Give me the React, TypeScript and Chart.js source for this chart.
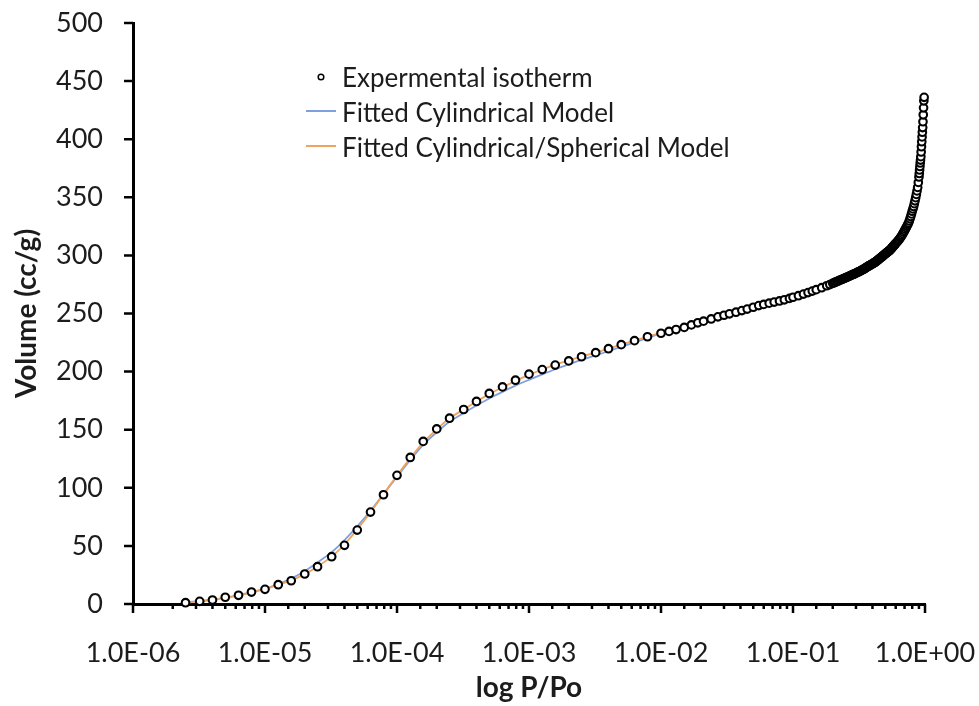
import React, { useEffect, useRef } from 'react';
import { Chart, registerables } from 'chart.js';

Chart.register(...registerables);

// ---- axis ticks ----
const xTickValues = [1e-6, 1e-5, 1e-4, 1e-3, 1e-2, 1e-1, 1];
const xTickLabels = ['1.0E-06', '1.0E-05', '1.0E-04', '1.0E-03', '1.0E-02', '1.0E-01', '1.0E+00'];
const yTickValues = [0, 50, 100, 150, 200, 250, 300, 350, 400, 450, 500];

const xTitle = 'log P/Po';
const yTitle = 'Volume (cc/g)';
const seriesNames = ['Expermental isotherm', 'Fitted Cylindrical Model', 'Fitted Cylindrical/Spherical Model'];

// ---- low-pressure experimental points (also where the fits are evaluated) ----
const lowP = [
  2.5e-6, 3.2e-6, 4.0e-6, 5.0e-6, 6.3e-6, 7.9e-6,
  1.0e-5, 1.26e-5, 1.58e-5, 2.0e-5, 2.5e-5, 3.2e-5, 4.0e-5, 5.0e-5, 6.3e-5, 7.9e-5,
  1.0e-4, 1.26e-4, 1.58e-4, 2.0e-4, 2.5e-4, 3.2e-4, 4.0e-4, 5.0e-4, 6.3e-4, 7.9e-4,
  1.0e-3, 1.26e-3, 1.58e-3, 2.0e-3, 2.5e-3, 3.2e-3, 4.0e-3, 5.0e-3, 6.3e-3, 7.9e-3,
];
const lowV = [
  1.1, 2.3, 3.4, 5.8, 7.5, 10.3,
  12.6, 16.6, 20.0, 25.8, 32.1, 40.7, 50.5, 63.6, 79.1, 94.0,
  110.7, 126.1, 139.9, 150.7, 159.9, 167.4, 174.3, 181.2, 186.8, 192.6,
  197.8, 201.7, 205.6, 209.2, 212.8, 216.3, 219.7, 223.2, 226.6, 230.0,
];

// ---- mid-pressure experimental points ----
const midP = [
  0.010, 0.0115, 0.013, 0.015, 0.017, 0.019, 0.021, 0.024, 0.027, 0.030,
  0.033, 0.037, 0.041, 0.045, 0.050, 0.055, 0.060, 0.066, 0.072, 0.079,
  0.086, 0.094, 0.10, 0.11, 0.12, 0.13, 0.14, 0.15, 0.165, 0.18, 0.19,
];
const midV = [
  233.0, 234.6, 236.2, 238.0, 240.2, 242.0, 243.4, 245.3, 247.1, 248.5,
  249.7, 251.1, 252.5, 253.8, 255.4, 256.8, 257.8, 258.9, 259.8, 260.8,
  261.8, 263.0, 264.0, 265.3, 266.7, 268.0, 269.3, 270.5, 272.2, 273.9, 274.9,
];

// ---- high-pressure experimental points (dense band) ----
const highP = [
  0.200, 0.205, 0.210, 0.215, 0.220, 0.225, 0.230, 0.235, 0.240, 0.245,
  0.250, 0.255, 0.260, 0.265, 0.270, 0.275, 0.280, 0.285, 0.290, 0.295,
  0.300, 0.305, 0.310, 0.315, 0.320, 0.325, 0.330, 0.335, 0.340, 0.345,
  0.350, 0.355, 0.360, 0.365, 0.370, 0.375, 0.380, 0.385, 0.390, 0.395,
  0.400, 0.405, 0.410, 0.415, 0.420, 0.425, 0.430, 0.435, 0.440, 0.445,
  0.450, 0.455, 0.460, 0.465, 0.470, 0.475, 0.480, 0.485, 0.490, 0.495,
  0.500, 0.505, 0.510, 0.515, 0.520, 0.525, 0.530, 0.535, 0.540, 0.545,
  0.550, 0.555, 0.560, 0.565, 0.570, 0.575, 0.580, 0.585, 0.590, 0.595,
  0.60, 0.61, 0.62, 0.63, 0.64, 0.65, 0.66, 0.67, 0.68, 0.69,
  0.70, 0.71, 0.72, 0.73, 0.74, 0.75, 0.76, 0.77, 0.78, 0.79,
  0.80, 0.81, 0.82, 0.83, 0.84, 0.85, 0.86, 0.87, 0.88, 0.89,
  0.90, 0.905, 0.91, 0.915, 0.92, 0.925, 0.93, 0.935, 0.94, 0.945,
  0.95, 0.955, 0.96, 0.965, 0.97, 0.975, 0.98, 0.985,
];
const highV = [
  276.0, 276.5, 277.0, 277.5, 278.0, 278.5, 278.9, 279.4, 279.8, 280.3,
  280.7, 281.2, 281.6, 282.0, 282.4, 282.8, 283.2, 283.6, 284.0, 284.4,
  284.8, 285.2, 285.6, 285.9, 286.3, 286.7, 287.1, 287.5, 287.9, 288.3,
  288.8, 289.2, 289.7, 290.1, 290.5, 290.9, 291.3, 291.7, 292.1, 292.4,
  292.8, 293.1, 293.5, 293.9, 294.3, 294.7, 295.2, 295.6, 296.1, 296.5,
  297.0, 297.4, 297.9, 298.3, 298.7, 299.1, 299.6, 300.0, 300.4, 300.9,
  301.3, 301.7, 302.1, 302.5, 302.9, 303.2, 303.6, 304.0, 304.3, 304.8,
  305.3, 305.8, 306.3, 306.8, 307.4, 307.9, 308.4, 308.8, 309.3, 309.8,
  310.3, 311.2, 312.1, 313.0, 314.0, 315.1, 316.2, 317.4, 318.7, 320.0,
  321.3, 322.6, 323.9, 325.2, 326.5, 327.8, 329.6, 331.5, 333.5, 335.7,
  338.0, 340.0, 342.0, 344.5, 347.0, 349.7, 352.5, 355.5, 358.5, 362.8,
  367.5, 370.5, 373.5, 376.5, 379.5, 382.0, 385.0, 389.0, 393.5, 397.8,
  402.0, 406.0, 410.0, 415.0, 421.0, 427.0, 433.0, 436.0,
];

// ---- fitted models (evaluated at the low-pressure points + 1.0E-02) ----
const fitP = [...lowP, 0.01];
const cylV = [
  1.5, 2.6, 3.8, 5.5, 7.6, 10.2,
  13.2, 17.2, 22.0, 28.2, 35.8, 44.6, 55.0, 66.8, 80.2, 94.6,
  109.5, 124.0, 137.0, 147.8, 156.8, 164.3, 170.8, 176.9, 182.6, 187.9,
  192.9, 197.6, 202.0, 206.2, 210.1, 213.9, 217.6, 221.3, 225.1, 229.0, 233.0,
];
const cylSphV = [
  1.0, 2.1, 3.3, 5.2, 7.3, 9.9,
  12.8, 16.5, 20.4, 25.7, 32.3, 40.8, 51.2, 64.2, 79.0, 94.5,
  110.5, 125.5, 139.0, 150.3, 159.8, 167.5, 174.3, 180.6, 186.5, 192.0,
  197.2, 201.8, 206.0, 209.7, 213.0, 216.4, 219.8, 223.2, 226.7, 230.2, 233.0,
];

const BLUE = '#7f9fe0';
const ORANGE = '#f0a35c';
const TEXT = '#1c1c1c';
const FONT = 'Lato, "Open Sans", sans-serif';

const isMajor = (v: number) => xTickValues.some((t) => Math.abs(Math.log10(t) - Math.log10(v)) < 1e-6);

const tickPlugin = {
  id: 'customTicks',
  beforeDatasetsDraw(chart: any) {
    const { ctx, scales } = chart;
    const x = scales.x;
    const y = scales.y;
    ctx.save();
    ctx.strokeStyle = '#000';
    ctx.lineWidth = 2.5;
    ctx.beginPath();
    for (const v of yTickValues) {
      const py = y.getPixelForValue(v);
      ctx.moveTo(x.left - 9, py);
      ctx.lineTo(x.left, py);
    }
    for (const t of x.ticks) {
      const px = x.getPixelForValue(t.value);
      const len = isMajor(t.value) ? 9 : 5;
      ctx.moveTo(px, y.bottom);
      ctx.lineTo(px, y.bottom + len);
    }
    ctx.stroke();
    ctx.restore();
  },
};

const legendPlugin = {
  id: 'insideLegend',
  afterDraw(chart: any) {
    const { ctx } = chart;
    const ds = chart.data.datasets;
    const rows = [78, 113, 148];
    const textX = 342;
    ctx.save();
    ctx.font = `26px ${FONT}`;
    ctx.textBaseline = 'middle';
    ctx.textAlign = 'left';
    ds.forEach((d: any, i: number) => {
      const ry = rows[i];
      if (i === 0) {
        ctx.beginPath();
        ctx.arc(321, ry - 1, 2.8, 0, Math.PI * 2);
        ctx.fillStyle = '#fff';
        ctx.fill();
        ctx.lineWidth = 1.5;
        ctx.strokeStyle = '#000';
        ctx.stroke();
      } else {
        ctx.beginPath();
        ctx.moveTo(306, ry - 2);
        ctx.lineTo(336, ry - 2);
        ctx.lineWidth = 2;
        ctx.strokeStyle = d.borderColor;
        ctx.stroke();
      }
      ctx.fillStyle = TEXT;
      ctx.fillText(d.label, textX, ry + 1);
    });
    ctx.restore();
  },
};

export default function App() {
  const canvasRef = useRef<HTMLCanvasElement | null>(null);

  useEffect(() => {
    const canvas = canvasRef.current;
    if (!canvas) return;
    const expP = [...lowP, ...midP, ...highP];
    const expV = [...lowV, ...midV, ...highV];
    const chart = new Chart(canvas, {
      type: 'scatter',
      data: {
        datasets: [
          {
            label: seriesNames[0],
            data: expP.map((p, i) => ({ x: p, y: expV[i] })),
            showLine: false,
            pointRadius: 3.8,
            pointBorderWidth: 2.1,
            pointBackgroundColor: '#ffffff',
            pointBorderColor: '#000000',
            borderColor: '#000000',
            backgroundColor: '#ffffff',
            order: 0,
            clip: false,
          },
          {
            label: seriesNames[1],
            data: fitP.map((p, i) => ({ x: p, y: cylV[i] })),
            showLine: true,
            pointRadius: 0,
            borderColor: BLUE,
            backgroundColor: BLUE,
            borderWidth: 1.8,
            tension: 0.3,
            order: 2,
            clip: false,
          },
          {
            label: seriesNames[2],
            data: fitP.map((p, i) => ({ x: p, y: cylSphV[i] })),
            showLine: true,
            pointRadius: 0,
            borderColor: ORANGE,
            backgroundColor: ORANGE,
            borderWidth: 1.8,
            tension: 0.3,
            order: 1,
            clip: false,
          },
        ],
      },
      options: {
        responsive: false,
        animation: false,
        events: [],
        layout: { padding: 0 },
        plugins: {
          legend: { display: false },
          tooltip: { enabled: false },
        },
        scales: {
          x: {
            type: 'logarithmic',
            min: 1e-6,
            max: 1,
            grid: { display: false },
            border: { display: true, color: '#000', width: 3 },
            ticks: {
              autoSkip: false,
              maxRotation: 0,
              minRotation: 0,
              padding: 25,
              color: TEXT,
              font: { family: FONT, size: 27 },
              callback: (value: any) => {
                const i = xTickValues.findIndex(
                  (t) => Math.abs(Math.log10(t) - Math.log10(Number(value))) < 1e-6
                );
                return i >= 0 ? xTickLabels[i] : '';
              },
            },
            title: {
              display: true,
              text: xTitle,
              color: TEXT,
              font: { family: FONT, size: 28, weight: 'bold' },
              padding: { top: 0, bottom: 1 },
            },
            afterFit: (s: any) => {
              s.height = 102;
              s.paddingLeft = 0;
              s.paddingRight = 54;
            },
          },
          y: {
            type: 'linear',
            min: 0,
            max: 500,
            grid: { display: false },
            border: { display: true, color: '#000', width: 3 },
            afterBuildTicks: (s: any) => {
              s.ticks = yTickValues.map((v) => ({ value: v }));
            },
            ticks: {
              padding: 22,
              color: TEXT,
              font: { family: FONT, size: 27 },
            },
            title: {
              display: true,
              text: yTitle,
              color: TEXT,
              font: { family: FONT, size: 28, weight: 'bold' },
              padding: { top: 10, bottom: 0 },
            },
            afterFit: (s: any) => {
              s.width = 133;
              s.paddingTop = 23;
              s.paddingBottom = 0;
            },
          },
        },
      },
      plugins: [tickPlugin, legendPlugin],
    } as any);
    return () => chart.destroy();
  }, []);

  return (
    <div style={{ position: 'absolute', left: 0, top: 0, width: 979, height: 706, background: '#fff' }}>
      <canvas ref={canvasRef} width={979} height={706} style={{ display: 'block' }} />
    </div>
  );
}
